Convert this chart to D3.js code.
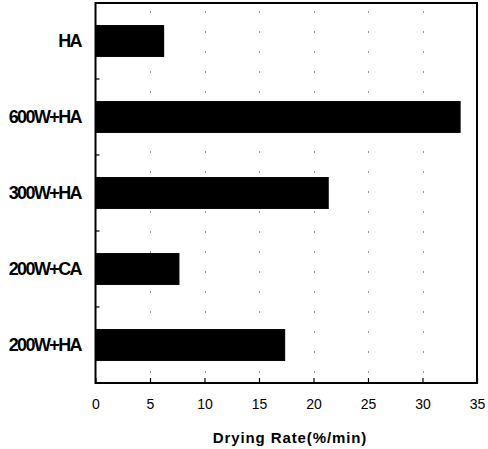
<!DOCTYPE html>
<html>
<head>
<meta charset="utf-8">
<script src="https://cdn.jsdelivr.net/npm/d3@7"></script>
<style>
  body { margin: 0; background: #fff; }
  svg { display: block; }
</style>
</head>
<body>
<svg id="chart" width="488" height="449"></svg>
<script>
const categories = ["HA", "600W+HA", "300W+HA", "200W+CA", "200W+HA"];
const values = [6.3, 33.5, 21.4, 7.7, 17.4];
const xTicks = [0, 5, 10, 15, 20, 25, 30, 35];
const xTitle = "Drying Rate(%/min)";

const svg = d3.select("#chart");
const m = { left: 95.5, right: 477, top: 3, bottom: 383 };

const x = d3.scaleLinear().domain([0, 35]).range([m.left, m.right]);
const y = d3.scaleBand().domain(categories).range([m.top, m.bottom]).paddingInner(0.58).paddingOuter(0.29);
const yb = d3.scaleBand().domain(categories).range([m.top, m.bottom]);

// gridlines
svg.append("g").selectAll("line").data(xTicks.filter(t => t > 0 && t < 35)).join("line")
  .attr("x1", d => Math.round(x(d)) + 0.5).attr("x2", d => Math.round(x(d)) + 0.5)
  .attr("y1", m.top).attr("y2", m.bottom)
  .attr("stroke", "#999").attr("stroke-width", 1)
  .attr("stroke-dasharray", "2,18").attr("stroke-dashoffset", -8);

// bars
svg.append("g").selectAll("rect").data(categories).join("rect")
  .attr("x", x(0)).attr("y", d => y(d))
  .attr("width", (d, i) => x(values[i]) - x(0))
  .attr("height", y.bandwidth())
  .attr("fill", "#000");

// frame
svg.append("rect").attr("x", m.left).attr("y", m.top)
  .attr("width", m.right - m.left).attr("height", m.bottom - m.top)
  .attr("fill", "none").attr("stroke", "#000").attr("stroke-width", 2);

// bottom axis (inward ticks)
const xAxis = d3.axisBottom(x).tickValues(xTicks).tickSizeInner(-5).tickSizeOuter(0).tickPadding(16);
const gx = svg.append("g").attr("transform", `translate(0,${m.bottom})`).call(xAxis);
gx.select(".domain").remove();
gx.selectAll("line").attr("stroke", "#000").attr("stroke-width", 1.2);
gx.selectAll("text").attr("font-family", "Liberation Sans, Arial, sans-serif")
  .attr("font-size", 14).attr("fill", "#000");

// left axis band boundary ticks
svg.append("g").selectAll("line").data(categories.slice(1)).join("line")
  .attr("x1", m.left).attr("x2", m.left + 4)
  .attr("y1", d => yb(d)).attr("y2", d => yb(d))
  .attr("stroke", "#000").attr("stroke-width", 1.2);

// category labels
svg.append("g").selectAll("text").data(categories).join("text")
  .attr("x", 81).attr("y", d => y(d) + y.bandwidth() / 2)
  .attr("dy", "0.36em").attr("text-anchor", "end")
  .attr("font-family", "Liberation Sans, Arial, sans-serif")
  .attr("font-size", 18).attr("font-weight", "bold").attr("letter-spacing", -1.6)
  .attr("fill", "#000").text(d => d);

// x title
svg.append("text").attr("x", 290).attr("y", 443).attr("text-anchor", "middle")
  .attr("font-family", "Liberation Sans, Arial, sans-serif")
  .attr("font-size", 15).attr("font-weight", "bold").attr("letter-spacing", 0.9)
  .attr("fill", "#000").text(xTitle);
</script>
</body>
</html>
